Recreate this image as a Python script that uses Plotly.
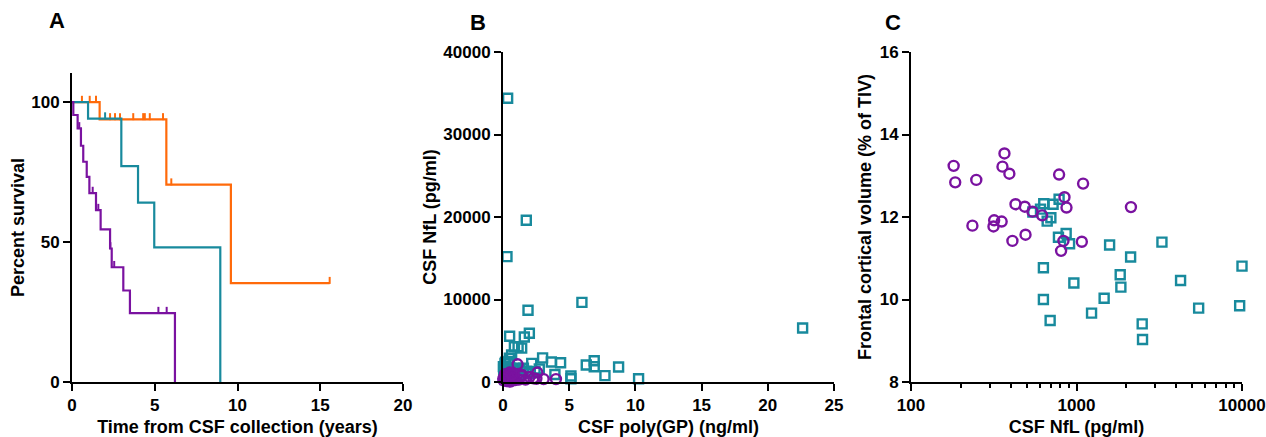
import numpy as np
import plotly.graph_objects as go

# ---------------- Panel A: Kaplan-Meier survival ----------------
orange_times = [0, 1.67, 5.7, 9.6]
orange_surv = [100, 93.8, 70.5, 35.3]
orange_end = 15.57
orange_censor = [0.6, 1.07, 1.45, 2.3, 2.6, 2.9, 3.7, 4.3, 4.4, 4.7, 5.5, 6.0, 15.57]

teal_times = [0, 0.97, 2.98, 3.99, 4.97, 8.96]
teal_surv = [100, 94.1, 77.1, 64.1, 48.1, 0]
teal_end = 8.96
teal_censor = [2.0]

purple_times = [0, 0.08, 0.34, 0.54, 0.68, 0.89, 1.05, 1.45, 1.73, 2.3, 2.4, 3.1, 3.5, 6.22]
purple_surv = [100, 95.4, 90.6, 84.4, 78.7, 73.3, 67.5, 61.4, 54.5, 47.7, 41.0, 32.7, 24.6, 0]
purple_end = 6.22
purple_censor = [0.44, 1.25, 1.59, 2.32, 2.55, 5.22, 5.72]

# ---------------- Panel B: CSF poly(GP) vs CSF NfL ----------------
b_teal_x = [0.35, 1.76, 0.30, 5.96, 1.89, 22.63, 0.50, 1.99, 1.61, 0.86, 1.14, 1.41, 0.65, 0.48,
            2.99, 3.65, 4.35, 6.29, 6.89, 6.89, 8.73, 7.70, 10.24, 5.13, 5.13, 3.92, 2.17, 2.74,
            1.81, 0.15, 0.03, 0.40, 0.58, 0.23, 0.08, 0.78, 1.03, 1.28, 1.54, 2.04, 2.42, 0.60,
            0.30, 0.05, 0.15, 0.50, 1.20, 0.10, 0.20, 0.45]
b_teal_y = [34400, 19600, 15200, 9650, 8700, 6550, 5550, 5900, 5450, 4280, 4280, 4100, 3270, 2870,
            2920, 2420, 2340, 2060, 2580, 1850, 1810, 770, 400, 725, 400, 900, 2260, 1570,
            1300, 2260, 1860, 2260, 1660, 1250, 850, 1450, 1660, 1450, 1660, 1050, 1250, 1200,
            1000, 1500, 300, 700, 900, 1700, 2400, 2500]

b_purple_x = [1.10, 0.50, 1.43, 2.60, 2.52, 3.07, 4.00, 2.29, 1.41, 0.05, 0.10, 0.20, 0.30, 0.35,
              0.45, 0.60, 0.70, 0.75, 0.85, 0.95, 0.15, 0.25, 0.55, 0.40, 1.20, 1.70, 2.00, 0.80,
              0.65, 0.02]
b_purple_y = [2150, 1150, 850, 1150, 380, 350, 350, 450, 720, 200, 600, 350, 800, 150,
              450, 300, 700, 200, 500, 250, 950, 100, 50, 650, 300, 300, 600, 1000,
              900, 400]

# ---------------- Panel C: CSF NfL vs frontal cortical volume ----------------
c_purple_x = [181, 185, 248, 235, 315, 318, 353, 357, 367, 393, 410, 428, 487, 492, 785, 846,
              870, 620, 834, 807, 1096, 1077, 2133, 542]
c_purple_y = [13.24, 12.84, 12.90, 11.79, 11.77, 11.92, 11.89, 13.22, 13.54, 13.05, 11.42, 12.31,
              12.25, 11.57, 13.03, 12.48, 12.23, 12.04, 11.42, 11.18, 12.81, 11.40, 12.24, 12.13]

c_teal_x = [545, 606, 634, 722, 785, 700, 665, 778, 866, 908, 1585, 3283, 2123, 631, 964, 1837,
            1854, 4254, 10000, 631, 1469, 693, 1233, 2494, 2506, 5471, 9680]
c_teal_y = [12.12, 12.19, 12.32, 12.31, 12.43, 11.98, 11.90, 11.51, 11.60, 11.35, 11.32, 11.39,
            11.03, 10.77, 10.40, 10.60, 10.30, 10.46, 10.81, 10.00, 10.03, 9.49, 9.67, 9.41,
            9.03, 9.79, 9.85]

ORANGE = "#ff6a0a"
TEAL = "#188a9d"
PURPLE = "#7a12a0"

fig = go.Figure()


def km_traces(times, surv, end, censor, color):
    xs = list(times) + [end]
    ys = list(surv) + [surv[-1]]
    fig.add_trace(go.Scatter(x=xs, y=ys, mode="lines", line=dict(color=color, width=2.2, shape="hv"),
                             xaxis="x", yaxis="y", showlegend=False, cliponaxis=False))
    t = np.array(times)
    s = np.array(surv)
    cs = [s[np.searchsorted(t, c, side="right") - 1] for c in censor]
    fig.add_trace(go.Scatter(x=censor, y=[v + 1.0 for v in cs], mode="markers",
                             marker=dict(symbol="line-ns", size=5, line=dict(color=color, width=2)),
                             xaxis="x", yaxis="y", showlegend=False, cliponaxis=False))


km_traces(orange_times, orange_surv, orange_end, orange_censor, ORANGE)
km_traces(teal_times, teal_surv, teal_end, teal_censor, TEAL)
km_traces(purple_times, purple_surv, purple_end, purple_censor, PURPLE)

sq = dict(symbol="square-open", size=9, color=TEAL, line=dict(width=2.4, color=TEAL))
ci = dict(symbol="circle-open", size=10, color=PURPLE, line=dict(width=2.4, color=PURPLE))

fig.add_trace(go.Scatter(x=b_teal_x, y=b_teal_y, mode="markers", marker=sq,
                         xaxis="x2", yaxis="y2", showlegend=False, cliponaxis=False))
fig.add_trace(go.Scatter(x=b_purple_x, y=b_purple_y, mode="markers", marker=ci,
                         xaxis="x2", yaxis="y2", showlegend=False, cliponaxis=False))

fig.add_trace(go.Scatter(x=c_teal_x, y=c_teal_y, mode="markers", marker=sq,
                         xaxis="x3", yaxis="y3", showlegend=False, cliponaxis=False))
fig.add_trace(go.Scatter(x=c_purple_x, y=c_purple_y, mode="markers", marker=ci,
                         xaxis="x3", yaxis="y3", showlegend=False, cliponaxis=False))

W, H = 1266, 437
FONT = "Liberation Sans"
tickfont = dict(family=FONT, size=17, color="black", weight="bold")
titlefont = dict(family=FONT, size=18, color="black", weight="bold")

ax_common = dict(showline=True, linecolor="black", linewidth=2, ticks="outside", ticklen=7,
                 tickwidth=2, tickcolor="black", showgrid=False, zeroline=False, tickfont=tickfont,
                 automargin=False)

def dom(px0, px1):
    return [px0 / W, px1 / W]

def vdom(py_bottom, py_top):
    return [1 - py_bottom / H, 1 - py_top / H]

fig.update_layout(
    width=W, height=H, margin=dict(l=0, r=0, t=0, b=0),
    paper_bgcolor="white", plot_bgcolor="white",
    xaxis=dict(ax_common, domain=dom(72, 403), range=[0, 20], tickvals=[0, 5, 10, 15, 20],
               anchor="y", title=dict(text="Time from CSF collection (years)", font=titlefont, standoff=7)),
    yaxis=dict(ax_common, domain=vdom(382, 73), range=[0, 110.4], tickvals=[0, 50, 100],
               anchor="x", title=dict(text="Percent survival", font=titlefont, standoff=2)),
    xaxis2=dict(ax_common, domain=dom(503, 834), range=[0, 25], tickvals=[0, 5, 10, 15, 20, 25],
                anchor="y2", title=dict(text="CSF poly(GP) (ng/ml)", font=titlefont, standoff=7)),
    yaxis2=dict(ax_common, domain=vdom(382, 52), range=[0, 40000],
                tickvals=[0, 10000, 20000, 30000, 40000], tickformat="d",
                anchor="x2", title=dict(text="CSF NfL (pg/ml)", font=titlefont, standoff=2)),
    xaxis3=dict(ax_common, domain=dom(911, 1242), type="log", range=[2, 4],
                tickvals=[100, 1000, 10000], ticktext=["100", "1000", "10000"],
                minor=dict(ticks="outside", ticklen=4, tickwidth=1.5, tickcolor="black",
                           tickvals=[200, 300, 400, 500, 600, 700, 800, 900,
                                     2000, 3000, 4000, 5000, 6000, 7000, 8000, 9000]),
                anchor="y3", title=dict(text="CSF NfL (pg/ml)", font=titlefont, standoff=7)),
    yaxis3=dict(ax_common, domain=vdom(382, 52), range=[8, 16], tickvals=[8, 10, 12, 14, 16],
                anchor="x3", title=dict(text="Frontal cortical volume (% of TIV)", font=titlefont, standoff=3)),
)

labfont = dict(family=FONT, size=22, color="black", weight="bold")
for txt, px, py in [("A", 57, 21), ("B", 478, 23), ("C", 893, 23)]:
    fig.add_annotation(text=txt, x=px / W, y=1 - py / H, xref="paper", yref="paper",
                       showarrow=False, font=labfont, xanchor="center", yanchor="middle")

fig.write_html("out.html", config={"displayModeBar": False},
               post_script="document.body.style.margin='0';document.body.style.overflow='hidden';")
